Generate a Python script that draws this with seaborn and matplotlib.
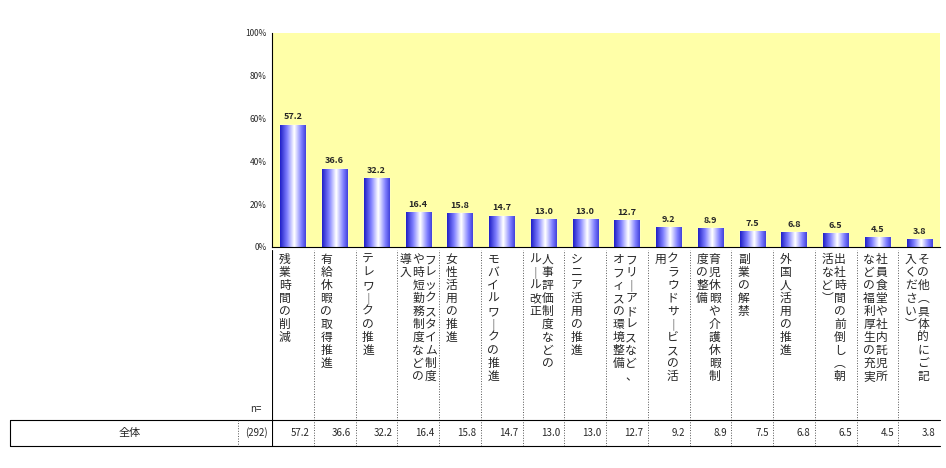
import numpy as np
import pandas as pd
import matplotlib
matplotlib.use("Agg")
import matplotlib.pyplot as plt
import seaborn as sns

# ─── data ───
labels = [
    ["残業時間の削減"],
    ["有給休暇の取得推進"],
    ["テレワークの推進"],
    ["フレックスタイム制度", "や時短勤務制度などの", "導入"],
    ["女性活用の推進"],
    ["モバイルワークの推進"],
    ["人事評価制度などの", "ルール改正"],
    ["シニア活用の推進"],
    ["フリーアドレスなど、", "オフィスの環境整備"],
    ["クラウドサービスの活", "用"],
    ["育児休暇や介護休暇制", "度の整備"],
    ["副業の解禁"],
    ["外国人活用の推進"],
    ["出社時間の前倒し（朝", "活など）"],
    ["社員食堂や社内託児所", "などの福利厚生の充実"],
    ["その他（具体的にご記", "入ください）"],
]
values = [57.2, 36.6, 32.2, 16.4, 15.8, 14.7, 13.0, 13.0, 12.7, 9.2, 8.9, 7.5, 6.8, 6.5, 4.5, 3.8]
row_label = "全体"
n_total = "(292)"
yticks = [0, 20, 40, 60, 80, 100]

sns.set_style("white")
plt.rcParams['font.family'] = ['Noto Sans CJK JP', 'DejaVu Sans']

df = pd.DataFrame({"cat": [str(i) for i in range(len(values))], "val": values})

fig = plt.figure(figsize=(9.46, 4.68), dpi=100)
L, R = 272 / 946, 940 / 946
ax = fig.add_axes([L, 1 - 247 / 468, R - L, 214 / 468])
ax.set_facecolor("#ffffa8")
sns.barplot(data=df, x="cat", y="val", ax=ax, width=0.6, color="#6a6af0", saturation=1)

# gradient fill in each bar
grad = np.linspace(0, 1, 64).reshape(1, -1)
grad = np.abs(grad - 0.55) * 2
cmap = matplotlib.colors.LinearSegmentedColormap.from_list("g", ["#ffffff", "#8080ff", "#2020c8"])
for p in ax.patches:
    x0, y0, w, h = p.get_x(), p.get_y(), p.get_width(), p.get_height()
    im = ax.imshow(grad, cmap=cmap, extent=[x0, x0 + w, y0, y0 + h], aspect="auto", zorder=p.get_zorder() + 0.1)
    im.set_clip_path(p)
    ax.text(x0 + w / 2, h + 1.5, f"{h:.1f}", ha="center", va="bottom", fontsize=6.5, fontweight="bold")

ax.set_xlim(-0.5, len(values) - 0.5)
ax.set_ylim(0, 100)
ax.set_yticks(yticks)
ax.set_yticklabels([f"{t}%" for t in yticks], fontsize=6)
ax.set_xticks([])
ax.set_xlabel("")
ax.set_ylabel("")
for s in ["top", "right"]:
    ax.spines[s].set_visible(False)
for s in ["left", "bottom"]:
    ax.spines[s].set_color("black")
    ax.spines[s].set_linewidth(0.8)
ax.tick_params(axis="y", length=2, pad=2)

# label / table area sharing category positions
H = 196
tb = fig.add_axes([L, 22 / 468, R - L, H / 468])
tb.axis("off")
tb.set_xlim(-0.5, len(values) - 0.5)
tb.set_ylim(0, H)
vert = str.maketrans({"ー": "｜", "（": "︵", "）": "︶"})
for i, (lines, v) in enumerate(zip(labels, values)):
    ncol = len(lines)
    for j, line in enumerate(lines):
        if ncol == 1:
            xc = i - 0.2
        elif ncol == 2:
            xc = i + 0.1 - j * 0.3
        else:
            xc = i + 0.3 - j * 0.3
        tb.text(xc, H - 3, "\n".join(line.translate(vert)), ha="center", va="top",
                fontsize=8.5, linespacing=1.0)
    tb.text(i + 0.4, 13, f"{v:.1f}", ha="right", va="center", fontsize=7)
    if i < len(values) - 1:
        tb.plot([i + 0.5, i + 0.5], [0, H], ls=":", color="#555555", lw=0.7)
tb.plot([-0.5, -0.5], [0, H], color="black", lw=0.8)
tb.set_ylim(0, H)
tb.set_xlim(-0.5, len(values) - 0.5)

# row header part in figure coordinates
fig.add_artist(plt.Line2D([10 / 946, R], [1 - 420 / 468] * 2, color="black", lw=0.8))
fig.add_artist(plt.Line2D([10 / 946, R], [1 - 446 / 468] * 2, color="black", lw=0.8))
fig.add_artist(plt.Line2D([10 / 946] * 2, [1 - 420 / 468, 1 - 446 / 468], color="black", lw=0.8))
fig.add_artist(plt.Line2D([238 / 946] * 2, [1 - 420 / 468, 1 - 446 / 468], color="#555555", lw=0.7, ls=":"))
fig.text(130 / 946, 1 - 433 / 468, row_label, ha="center", va="center", fontsize=8)
fig.text(256 / 946, 1 - 433 / 468, n_total, ha="center", va="center", fontsize=7)
fig.text(256 / 946, 1 - 409 / 468, "n=", ha="center", va="center", fontsize=7)

fig.savefig("out.png", dpi=100)
